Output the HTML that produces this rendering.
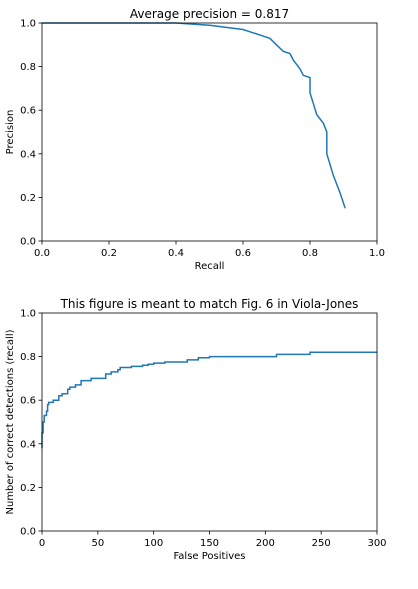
<!DOCTYPE html>
<html><head><meta charset="utf-8"><style>
body{margin:0;background:#fff;}
svg text{font-family:"DejaVu Sans","Liberation Sans",sans-serif;fill:#000;}
</style></head><body>
<svg id="c" width="418" height="584" xmlns="http://www.w3.org/2000/svg"></svg>
<script>
const prRecall=[0,0.4,0.45,0.5,0.55,0.6,0.63,0.66,0.68,0.7,0.72,0.74,0.75,0.77,0.78,0.8,0.8,0.81,0.82,0.84,0.85,0.85,0.87,0.89,0.905];
const prPrecision=[1,1,0.995,0.99,0.98,0.97,0.955,0.94,0.93,0.9,0.87,0.86,0.83,0.79,0.76,0.75,0.68,0.63,0.58,0.54,0.5,0.4,0.3,0.22,0.15];
const fpValues=[0,0,1,1,2,4,5,6,10,12,15,18,23,25,30,35,40,44,56,57,62,68,70,80,90,95,100,110,125,130,140,150,200,210,238,240,300];
const recallValues=[0.38,0.45,0.47,0.5,0.53,0.55,0.58,0.59,0.6,0.6,0.62,0.63,0.65,0.66,0.67,0.69,0.69,0.7,0.7,0.72,0.73,0.74,0.75,0.755,0.76,0.765,0.77,0.775,0.775,0.785,0.795,0.8,0.8,0.81,0.81,0.82,0.82];
const topXTicks=["0.0","0.2","0.4","0.6","0.8","1.0"];
const yTicks=["0.0","0.2","0.4","0.6","0.8","1.0"];
const botXTicks=[0,50,100,150,200,250,300];
const NS="http://www.w3.org/2000/svg",svg=document.getElementById('c');
function mk(t,a,p){const e=document.createElementNS(NS,t);for(const k in a)e.setAttribute(k,a[k]);(p||svg).appendChild(e);return e;}
function panel(name,L,T,W,H,xmax,xt,yt,xs,ys,title,xl,yl,step){
  const g=mk('g',{});
  
  
  const X=v=>L+v/xmax*W, Y=v=>T+H-v*H;
  let d='';
  xs.forEach((v,i)=>{
    if(i===0){d+='M'+X(v).toFixed(1)+' '+Y(ys[i]).toFixed(1);return;}
    if(step) d+=' L'+X(v).toFixed(1)+' '+Y(ys[i-1]).toFixed(1);
    d+=' L'+X(v).toFixed(1)+' '+Y(ys[i]).toFixed(1);
  });
  const ln=mk('path',{d:d,fill:'none',stroke:'#1f77b4','stroke-width':1.5},g);
  
  
  const fr=mk('rect',{x:L,y:T,width:W,height:H,fill:'none',stroke:'#000','stroke-width':0.8},g);
  
  
  xt.forEach(t=>{const v=parseFloat(t),x=X(v);mk('line',{x1:x,x2:x,y1:T+H,y2:T+H+3.5,stroke:'#000','stroke-width':0.8},g);
    const tx=mk('text',{x:x,y:T+H+15,'font-size':10,'text-anchor':'middle'},g);tx.textContent=t;
    
    });
  yt.forEach(t=>{const y=Y(parseFloat(t));mk('line',{x1:L-3.5,x2:L,y1:y,y2:y,stroke:'#000','stroke-width':0.8},g);
    const tx=mk('text',{x:L-6,y:y+3.5,'font-size':10,'text-anchor':'end'},g);tx.textContent=t;
    
    });
  const ti=mk('text',{x:L+W/2,y:T-5,'font-size':12,'text-anchor':'middle'},g);ti.textContent=title;
  
  
  const xa=mk('text',{x:L+W/2,y:T+H+28,'font-size':10,'text-anchor':'middle'},g);xa.textContent=xl;
  
  
  const ya=mk('text',{x:0,y:0,'font-size':10,'text-anchor':'middle',transform:`translate(13,${T+H/2}) rotate(-90)`},g);ya.textContent=yl;
  
  
}
panel('precision-recall-chart',42,23,335,218,1,topXTicks,yTicks,prRecall,prPrecision,'Average precision = 0.817','Recall','Precision',false);
panel('detection-chart',42,313,335,218,300,botXTicks.map(String),yTicks,fpValues,recallValues,'This figure is meant to match Fig. 6 in Viola-Jones','False Positives','Number of correct detections (recall)',true);
</script>
</body></html>
